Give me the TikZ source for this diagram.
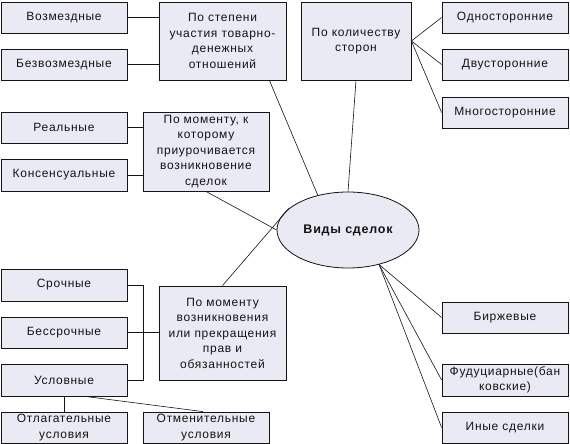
\documentclass[tikz,border=0pt]{standalone}
\usepackage{fontspec}
\setmainfont{Liberation Sans}[LetterSpace=6]
\usetikzlibrary{shapes.geometric}
\definecolor{boxfill}{RGB}{234,234,244}
\definecolor{inkc}{RGB}{20,20,20}
\begin{document}
\begin{tikzpicture}[x=1pt,y=-1pt,
  box/.style={draw=inkc, line width=0.8pt, fill=boxfill, rectangle, inner sep=0pt,
    align=center, text=inkc, font=\fontsize{12}{15.5}\selectfont},
  sbox/.style={box, minimum width=126pt, minimum height=31pt},
  link/.style={draw=inkc, line width=0.6pt}]
\useasboundingbox (0,0) rectangle (570,444);
% left top group
\node[sbox] (voz) at (64,17.5) {Возмездные};
\node[sbox] (bezvoz) at (64,64.5) {Безвозмездные};
\node[box, minimum width=127pt, minimum height=78pt] (stepen) at (222.5,41) {По степени\\участия товарно-\\денежных\\отношений};
% parties
\node[box, minimum width=110pt, minimum height=78pt] (kol) at (356,41) {По количеству\\сторон};
\node[sbox] (odno) at (505,17.5) {Односторонние};
\node[sbox] (dvu) at (505,64.5) {Двусторонние};
\node[sbox] (mnogo) at (505,112.5) {Многосторонние};
% moment 1
\node[sbox] (real) at (64,127.5) {Реальные};
\node[sbox, minimum height=32pt] (kons) at (64,175) {Консенсуальные};
\node[box, minimum width=126pt, minimum height=79pt] (mom1) at (206,151.5) {По моменту, к\\которому\\приурочивается\\возникновение\\сделок};
% center
\node[ellipse, draw=inkc, line width=0.8pt, fill=boxfill, minimum width=142pt, minimum height=76pt, inner sep=0pt, text=inkc, font=\fontsize{12.5}{15}\selectfont\bfseries] (ell) at (348,230) {Виды сделок};
% moment 2
\node[sbox, minimum height=32pt] (sroch) at (64,285) {Срочные};
\node[sbox] (bessroch) at (64,332.5) {Бессрочные};
\node[sbox, minimum height=32pt] (uslov) at (64,380) {Условные};
\node[box, minimum width=127pt, minimum height=94pt] (mom2) at (222.5,333) {По моменту\\возникновения\\или прекращения\\прав и\\обязанностей};
\node[sbox] (otlag) at (64,427.5) {Отлагательные\\условия};
\node[sbox] (otmen) at (206,427.5) {Отменительные\\условия};
% right bottom
\node[sbox] (birzh) at (505,317.5) {Биржевые};
\node[sbox, minimum height=32pt] (fid) at (505,380) {Фудуциарные(бан\\ковские)};
\node[sbox] (inye) at (505,427.5) {Иные сделки};
% connectors
\draw[link] (voz.east) -- (voz.east -| stepen.west);
\draw[link] (bezvoz.east) -- (bezvoz.east -| stepen.west);
\draw[link] (real.east) -- (real.east -| mom1.west);
\draw[link] (kons.east) -- (kons.east -| mom1.west);
\draw[link] (kol.east) -- (odno.west);
\draw[link] (kol.east) -- (dvu.west);
\draw[link] (kol.east) -- (mnogo.west);
\draw[link] (kol.south) -- (ell.north);
\draw[link] ([xshift=-17pt]stepen.south east) -- (ell.131);
\draw[link] (mom1.south) -- (ell.west);
\draw[link] (mom2.north) -- (ell.160);
\draw[link] (ell.-48) -- (birzh.west);
\draw[link] (ell.-48) -- (fid.west);
\draw[link] (ell.-48) -- (inye.west);
\draw[link] (sroch.east) -- ++(16,0) |- (uslov.east);
\draw[link] (bessroch.east) -- (bessroch.east -| mom2.west);
\draw[link] (uslov.south) -- (otlag.north);
\draw[link] ([xshift=21pt]uslov.south) -- ([xshift=-3pt]otmen.north);
\end{tikzpicture}
\end{document}
